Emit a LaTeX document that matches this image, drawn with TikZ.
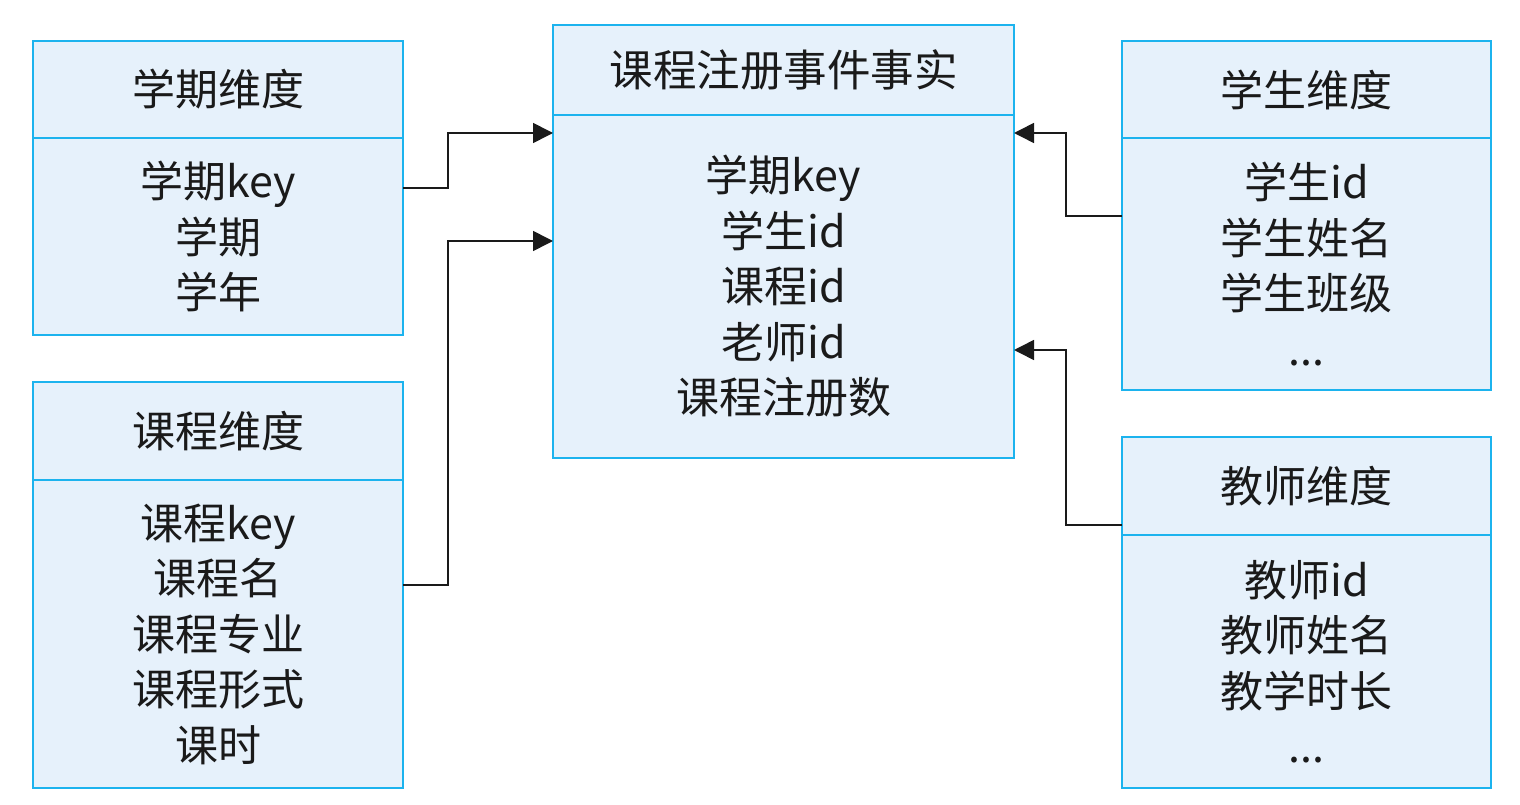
\documentclass[tikz,border=0pt]{standalone}
\usepackage{fontspec}
\setmainfont{Noto Sans CJK SC}
\usetikzlibrary{arrows.meta,calc}
\definecolor{boxline}{HTML}{1CB3EE}
\definecolor{boxfill}{HTML}{E6F1FB}
\definecolor{ink}{HTML}{1A1A1A}
\tikzstyle{cell}=[rectangle,draw=boxline,fill=boxfill,line width=1.5pt,anchor=north west,inner sep=0pt,outer sep=0pt,text=ink,align=center,font=\fontsize{43}{55.5}\selectfont]
\tikzstyle{facthead}=[cell,font=\fontsize{43.5}{55}\selectfont]
\tikzstyle{link}=[draw=ink,line width=1.6pt,-{Triangle[length=20pt,width=20pt]}]

\begin{document}
\begin{tikzpicture}[x=1pt,y=-1pt]
		\useasboundingbox (0,0) rectangle (1520,805);
		
		% fact table
		\node (facthd) at (553,25) [facthead,minimum width=461pt,minimum height=90pt] {课程注册事件事实};
		\node (factbd) at (553,115) [cell,minimum width=461pt,minimum height=343pt] {学期key\\学生id\\课程id\\老师id\\课程注册数};
		
		% dimensions
		\node (termhd) at (33,41) [cell,minimum width=370pt,minimum height=97pt] {学期维度};
		\node (termbd) at (33,138) [cell,minimum width=370pt,minimum height=197pt] {学期key\\学期\\学年};
		\node (coursehd) at (33,382) [cell,minimum width=370pt,minimum height=98pt] {课程维度};
		\node (coursebd) at (33,480) [cell,minimum width=370pt,minimum height=308pt] {课程key\\课程名\\课程专业\\课程形式\\课时};
		\node (stuhd) at (1122,41) [cell,minimum width=369pt,minimum height=97pt] {学生维度};
		\node (stubd) at (1122,138) [cell,minimum width=369pt,minimum height=252pt] {学生id\\学生姓名\\学生班级\\...};
		\node (teahd) at (1122,437) [cell,minimum width=369pt,minimum height=98pt] {教师维度};
		\node (teabd) at (1122,535) [cell,minimum width=369pt,minimum height=253pt] {教师id\\教师姓名\\教学时长\\...};
		
		\draw[link] ($(termbd.north east)+(0,50)$) -- ++(45,0) |- ($(factbd.north west)+(0,18)$);
		\draw[link] ($(coursebd.north east)+(0,105)$) -- ++(45,0) |- ($(factbd.north west)+(0,126)$);
		\draw[link] ($(stubd.north west)+(0,78)$) -- ++(-56,0) |- ($(factbd.north east)+(0,18)$);
		\draw[link] ($(teahd.south west)+(0,-10)$) -- ++(-56,0) |- ($(factbd.north east)+(0,235)$);
	\end{tikzpicture}
\end{document}
